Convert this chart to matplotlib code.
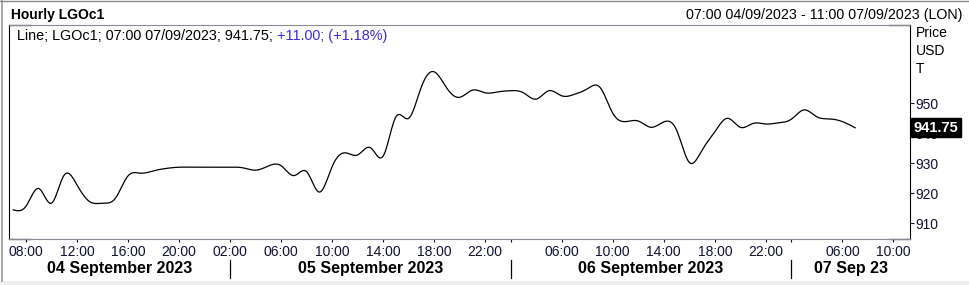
import matplotlib
matplotlib.use("Agg")
import matplotlib.pyplot as plt
import matplotlib.transforms as mtransforms
from matplotlib.patches import Rectangle
from matplotlib.lines import Line2D
import numpy as np

plt.rcParams['font.family'] = ['Liberation Sans', 'DejaVu Sans']

# hourly closes, 07:00 04/09/2023 .. 07:00 07/09/2023 (session 01:00-22:00)
sep04 = [914.4, 915.6, 921.5, 916.6, 926.0, 922.7, 917.1, 916.6, 918.2, 925.7,
         926.6, 927.4, 928.2, 928.6, 928.6, 928.6]                     # 07..22
sep05 = [928.6, 928.6, 928.4, 927.6, 929.0, 929.1, 925.8, 927.1, 920.3, 928.8,
         933.4, 932.7, 935.1, 932.3, 945.4, 944.9, 955.4, 960.4, 954.9, 951.9,
         954.3, 953.4]                                                  # 01..22
sep06 = [953.7, 954.1, 953.4, 951.3, 954.1, 952.4, 952.9, 954.7, 955.2, 946.6,
         943.8, 944.0, 941.9, 943.7, 941.0, 930.2, 934.3, 940.4, 944.9, 941.9,
         943.2, 943.0]                                                  # 01..22
sep07 = [943.4, 944.6, 947.7, 945.4, 944.7, 943.8, 941.75]              # 01..07
prices = sep04 + sep05 + sep06 + sep07

day_names = ["04 September 2023", "05 September 2023", "06 September 2023", "07 Sep 23"]
first_hour = [7, 1, 1, 1]
last_hour = [22, 22, 22, 11]           # axis runs to 11:00 on the last day
tick_hours = [[8, 12, 16, 20], [2, 6, 10, 14, 18, 22], [6, 10, 14, 18, 22], [6, 10]]
yticks = [910, 920, 930, 940, 950]
last_value = "941.75"

# bar index for every (day, hour) in the session
bar_of = {}
n = 0
for d in range(4):
    for h in range(first_hour[d], last_hour[d] + 1):
        bar_of[(d, h)] = n
        n += 1
x_end = bar_of[(3, 11)]


def natural_spline(y, per=12):
    y = np.asarray(y, float)
    m = len(y)
    A = np.zeros((m, m))
    b = np.zeros(m)
    A[0, 0] = A[-1, -1] = 1
    for k in range(1, m - 1):
        A[k, k - 1], A[k, k], A[k, k + 1] = 1, 4, 1
        b[k] = 6 * (y[k + 1] - 2 * y[k] + y[k - 1])
    M = np.linalg.solve(A, b)
    xs, ys = [], []
    for k in range(m - 1):
        t = np.linspace(0, 1, per, endpoint=False)
        yy = ((1 - t) * y[k] + t * y[k + 1]
              + ((1 - t) ** 3 - (1 - t)) * M[k] / 6 + (t ** 3 - t) * M[k + 1] / 6)
        xs.append(k + t)
        ys.append(yy)
    xs.append([m - 1])
    ys.append([y[-1]])
    return np.concatenate(xs), np.concatenate(ys)


fig = plt.figure(figsize=(9.69, 2.85), dpi=100)
ax = fig.add_axes([9 / 969, 1 - 239 / 285, 901 / 969, 214 / 285])

sx, sy = natural_spline(prices)
ax.plot(sx, sy, color="black", lw=0.9, solid_joinstyle="round")

ax.set_xlim(-0.33, x_end + 0.3)
ax.set_ylim(904.67, 976)

# axes frame: black sides, grey top/bottom with black corners
for s in ["left", "right"]:
    ax.spines[s].set_color("black")
    ax.spines[s].set_linewidth(0.8)
for s in ["top", "bottom"]:
    ax.spines[s].set_color("#8c8a96")
    ax.spines[s].set_linewidth(0.8)
c = 21 / 901
for yy in (0, 1):
    ax.add_line(Line2D([0, c], [yy, yy], transform=ax.transAxes, color="black", lw=0.9, clip_on=False))
    ax.add_line(Line2D([1 - c, 1], [yy, yy], transform=ax.transAxes, color="black", lw=0.9, clip_on=False))

# y axis on the right
ax.yaxis.tick_right()
ax.set_yticks(yticks)
ax.set_yticklabels([str(v) for v in yticks])
ax.tick_params(axis="y", direction="out", length=3, width=0.8, pad=1, labelsize=10, colors="#111133")

# x axis: hourly labels
xt, xl = [], []
for d in range(4):
    for h in tick_hours[d]:
        xt.append(bar_of[(d, h)])
        xl.append("%02d:00" % h)
ax.set_xticks(xt)
ax.set_xticklabels(xl)
ax.set_xticks([bar_of[(2, 2)], bar_of[(3, 2)]], minor=True)
ax.tick_params(axis="x", which="both", direction="out", length=2.5, width=0.8, pad=2,
               labelsize=10, colors="#111133")

# day bands
trans = mtransforms.blended_transform_factory(ax.transData, ax.transAxes)
seps = [bar_of[(1, 2)], bar_of[(2, 2)], bar_of[(3, 2)]]
edges = [ax.get_xlim()[0]] + seps + [ax.get_xlim()[1]]
for d in range(4):
    ax.text((edges[d] + edges[d + 1]) / 2, -0.136, day_names[d], transform=trans,
            ha="center", va="center", fontsize=11.5, fontweight="bold")
for s in seps:
    ax.add_line(Line2D([s, s], [-0.098, -0.182], transform=trans, color="black", lw=0.9, clip_on=False))

# legend line inside the plot
t1 = ax.text(8 / 901, 0.95, "Line; LGOc1; 07:00 07/09/2023; 941.75; ", transform=ax.transAxes,
             ha="left", va="center", fontsize=10.4, color="black")
ax.annotate("+11.00; (+1.18%)", xy=(1, 0.5), xycoords=t1, ha="left", va="center",
            fontsize=10.4, color="#3a2bd8")

# last value tag (covers the 940 label, as in the original)
ytrans = mtransforms.blended_transform_factory(ax.transAxes, ax.transData)
ax.annotate(last_value, xy=(1, 941.75), xycoords=ytrans, xytext=(2.5, 0), textcoords="offset points",
            ha="left", va="center", fontsize=10.5, fontweight="bold", color="white",
            bbox=dict(boxstyle="square,pad=0.18", fc="black", ec="black"), zorder=10,
            annotation_clip=False)

# header texts
fig.text(11 / 969, 1 - 14.5 / 285, "Hourly LGOc1", ha="left", va="center", fontsize=10, fontweight="bold")
fig.text(963 / 969, 1 - 14.5 / 285, "07:00 04/09/2023 - 11:00 07/09/2023 (LON)", ha="right", va="center",
         fontsize=10.3)
for k, s in enumerate(["Price", "USD", "T"]):
    fig.text(916 / 969, 1 - (33 + 18 * k) / 285, s, ha="left", va="center", fontsize=10)

# outer window frame
fig.add_artist(Line2D([1.5 / 969, 1.5 / 969], [4 / 285, 1], color="#9a9a9a", lw=1.2))
fig.add_artist(Line2D([0, 1], [1 - 0.5 / 285, 1 - 0.5 / 285], color="#8a8a8a", lw=1.0))
fig.add_artist(Rectangle((0, 0), 1, 4 / 285, transform=fig.transFigure, fc="#f0f0f0", ec="none"))

fig.savefig("out.png", dpi=100)
